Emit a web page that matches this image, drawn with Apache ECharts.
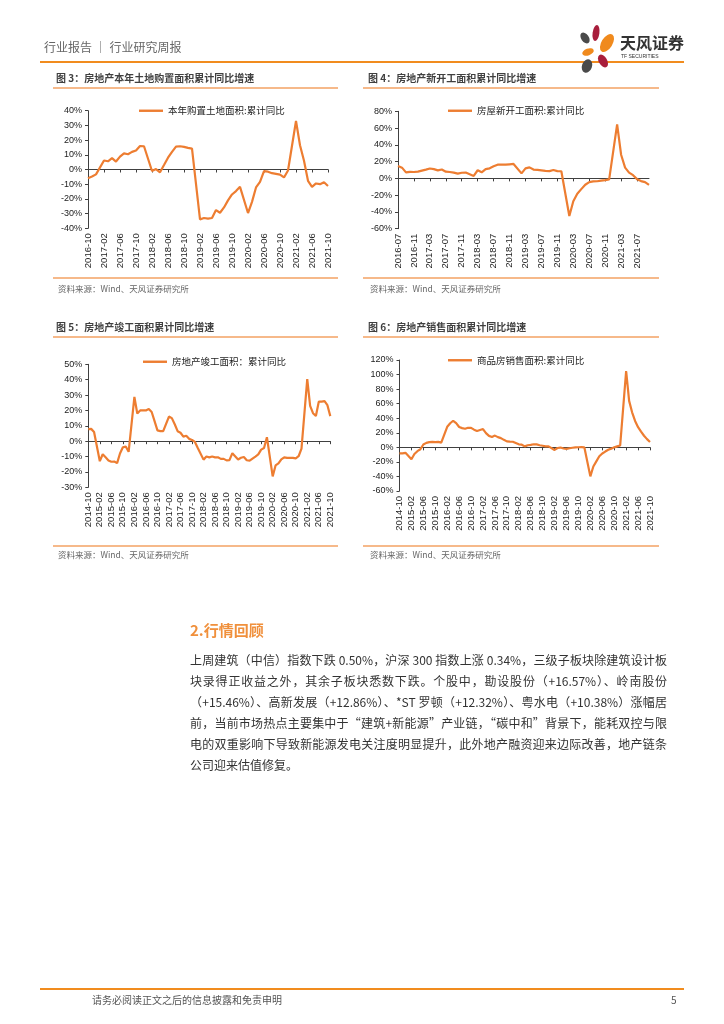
<!DOCTYPE html>
<html>
<head>
<meta charset="utf-8">
<script src="https://cdn.jsdelivr.net/npm/echarts@6/dist/echarts.min.js"></script>
<style>
  body { margin: 0; background: #fff; }
  #page { position: relative; width: 724px; height: 1024px; overflow: hidden; background: #fff;
          font-family: "Noto Sans CJK SC", "Noto Sans", sans-serif; }
  #chart { position: absolute; left: 0; top: 0; width: 724px; height: 1024px; }
  .t { position: absolute; white-space: nowrap; line-height: 1; }
  .hl { position: absolute; }
  .ttl { font-size: 10px; font-weight: bold; color: #404040; }
  .src { font-size: 8.5px; color: #666; }
  .pl { position: absolute; left: 190px; width: 477px; font-size: 12px; color: #333; line-height: 17px;
        white-space: nowrap; text-align: justify; text-align-last: justify; }
  .pl.last { text-align-last: left; }
</style>
</head>
<body>
<div id="page">
  <div id="chart"></div>

  <!-- header -->
  <div class="t" style="left:44px;top:41px;font-size:12px;color:#666;">行业报告 ｜ 行业研究周报</div>
  <div class="hl" style="left:40px;top:61px;width:644px;height:2px;background:#F18C1E;"></div>
  <svg style="position:absolute;left:0;top:0;" width="724" height="80">
    <ellipse cx="585" cy="38" rx="3.8" ry="6" fill="#4A4A4A" transform="rotate(-35 585 38)"/>
    <ellipse cx="596" cy="33" rx="3.4" ry="8" fill="#A81E3C" transform="rotate(8 596 33)"/>
    <ellipse cx="607" cy="43" rx="5.5" ry="10" fill="#F08A1D" transform="rotate(32 607 43)"/>
    <ellipse cx="588" cy="52" rx="6" ry="3.4" fill="#F08A1D" transform="rotate(-20 588 52)"/>
    <ellipse cx="603" cy="61" rx="4.2" ry="7" fill="#A81E3C" transform="rotate(-30 603 61)"/>
    <ellipse cx="587" cy="66" rx="5" ry="7" fill="#4A4A4A" transform="rotate(20 587 66)"/>
    <text x="620" y="49" font-size="16" font-weight="bold" fill="#333" font-family="Noto Sans CJK SC">天风证券</text>
    <text x="621" y="58" font-size="5" fill="#333" font-family="Liberation Sans">TF SECURITIES</text>
  </svg>

  <!-- chart titles / rules / sources -->
  <div class="t ttl" style="left:56px;top:73px;">图 3：房地产本年土地购置面积累计同比增速</div>
  <div class="hl" style="left:53px;top:87px;width:285px;height:1.5px;background:#F6B98A;"></div>
  <div class="hl" style="left:53px;top:277px;width:285px;height:1.5px;background:#F6B98A;"></div>
  <div class="t src" style="left:58px;top:284px;">资料来源：Wind、天风证券研究所</div>

  <div class="t ttl" style="left:368px;top:73px;">图 4：房地产新开工面积累计同比增速</div>
  <div class="hl" style="left:363px;top:87px;width:296px;height:1.5px;background:#F6B98A;"></div>
  <div class="hl" style="left:363px;top:277px;width:296px;height:1.5px;background:#F6B98A;"></div>
  <div class="t src" style="left:370px;top:284px;">资料来源：Wind、天风证券研究所</div>

  <div class="t ttl" style="left:56px;top:322px;">图 5：房地产竣工面积累计同比增速</div>
  <div class="hl" style="left:53px;top:336px;width:285px;height:1.5px;background:#F6B98A;"></div>
  <div class="hl" style="left:53px;top:545px;width:285px;height:1.5px;background:#F6B98A;"></div>
  <div class="t src" style="left:58px;top:550px;">资料来源：Wind、天风证券研究所</div>

  <div class="t ttl" style="left:368px;top:322px;">图 6：房地产销售面积累计同比增速</div>
  <div class="hl" style="left:363px;top:336px;width:296px;height:1.5px;background:#F6B98A;"></div>
  <div class="hl" style="left:363px;top:545px;width:296px;height:1.5px;background:#F6B98A;"></div>
  <div class="t src" style="left:370px;top:550px;">资料来源：Wind、天风证券研究所</div>

  <!-- section -->
  <div class="t" style="left:190px;top:622px;font-size:15px;font-weight:bold;color:#F0903C;">2.行情回顾</div>
  <div class="pl" style="top:651px;">上周建筑（中信）指数下跌 0.50%，沪深 300 指数上涨 0.34%，三级子板块除建筑设计板</div>
  <div class="pl" style="top:672px;">块录得正收益之外，其余子板块悉数下跌。个股中，勘设股份（+16.57%）、岭南股份</div>
  <div class="pl" style="top:693px;">（+15.46%）、高新发展（+12.86%）、*ST 罗顿（+12.32%）、粤水电（+10.38%）涨幅居</div>
  <div class="pl" style="top:714px;">前，当前市场热点主要集中于“建筑+新能源”产业链，“碳中和”背景下，能耗双控与限</div>
  <div class="pl" style="top:735px;">电的双重影响下导致新能源发电关注度明显提升，此外地产融资迎来边际改善，地产链条</div>
  <div class="pl last" style="top:756px;">公司迎来估值修复。</div>

  <!-- footer -->
  <div class="hl" style="left:40px;top:988px;width:644px;height:2px;background:#F18C1E;"></div>
  <div class="t" style="left:92px;top:995px;font-size:10px;color:#555;">请务必阅读正文之后的信息披露和免责申明</div>
  <div class="t" style="left:671px;top:995px;font-size:10px;color:#555;">5</div>
</div>

<script>
// ---------- data ----------
function monthRange(a, b) {
  const [y0, m0] = a.split('-').map(Number);
  const [y1, m1] = b.split('-').map(Number);
  const out = [];
  let y = y0, m = m0;
  while (y < y1 || (y === y1 && m <= m1)) {
    out.push(y + '-' + String(m).padStart(2, '0'));
    m++; if (m > 12) { m = 1; y++; }
  }
  return out;
}

// Figure 3: land purchase area, cumulative YoY (%), 2016-10 .. 2021-10 (January not published)
const landMonths = monthRange('2016-10', '2021-10');
const landYoY = [
  -5.9, -4.8, -3.3,
  null, 6.1, 5.6, 7.7, 5.4, 8.8, 11.0, 10.4, 12.0, 12.9, 16.0, 15.8,
  null, -1.0, 0.3, -1.9, 3.0, 8.0, 12.0, 15.6, 15.8, 15.4, 14.7, 14.2,
  null, -33.9, -33.0, -33.4, -33.0, -27.6, -29.4, -25.8, -21.0, -17.0, -14.7, -11.8,
  null, -29.6, -22.0, -12.2, -8.4, -1.1, -1.5, -2.5, -3.0, -3.5, -5.4, -0.7,
  null, 33.0, 16.5, 6.0, -7.7, -11.8, -9.5, -10.0, -8.7, -11.2
];
const landAxis = [-40, 40, 10];

// Figure 4: new construction area, cumulative YoY (%), 2016-07 .. 2021-10
const startMonths = monthRange('2016-07', '2021-10');
const startYoY = [
  14.9, 12.8, 7.2, 7.7, 7.6, 8.1,
  null, 10.4, 11.8, 11.0, 9.5, 10.6, 8.0, 7.6, 6.8, 5.6, 6.7, 7.0,
  null, 2.9, 9.7, 7.2, 11.0, 12.0, 14.4, 16.3, 16.4, 16.3, 16.8, 17.2,
  null, 6.0, 11.9, 13.1, 10.5, 10.1, 9.5, 8.9, 8.6, 10.0, 8.6, 8.5,
  null, -44.9, -27.2, -18.4, -12.8, -7.6, -4.5, -3.6, -3.4, -2.6, -2.0, -1.2,
  null, 64.3, 28.2, 12.8, 6.9, 3.8, -0.9, -3.2, -4.5, -7.7
];
const startAxis = [-60, 80, 20];

// Figure 5: completed area, cumulative YoY (%), 2014-10 .. 2021-10
const completeMonths = monthRange('2014-10', '2021-10');
const completeYoY = [
  7.8, 8.0, 6.0,
  null, -13.0, -8.5, -10.5, -12.5, -13.4, -13.2, -14.3, -8.0, -4.0, -3.5, -6.9,
  null, 28.8, 18.0, 20.0, 20.0, 20.0, 21.0, 19.0, 13.0, 7.0, 6.5, 6.5,
  null, 16.0, 15.0, 11.0, 6.5, 5.5, 3.0, 3.5, 1.5, 0.8, -0.5, -4.4,
  null, -12.0, -10.0, -10.5, -10.0, -10.5, -10.5, -11.5, -11.5, -12.5, -12.3, -7.8,
  null, -11.9, -10.8, -10.3, -12.4, -12.7, -11.3, -10.0, -8.6, -5.5, -4.5, 2.6,
  null, -22.9, -15.8, -14.5, -11.8, -10.5, -10.9, -10.8, -10.9, -11.2, -9.8, -4.9,
  null, 40.4, 22.9, 18.2, 16.4, 25.7, 25.7, 26.0, 23.4, 16.3
];
const completeAxis = [-30, 50, 10];

// Figure 6: commodity housing sales area, cumulative YoY (%), 2014-10 .. 2021-10
const salesMonths = monthRange('2014-10', '2021-10');
const salesYoY = [
  -8.3, -8.2, -7.6,
  null, -16.3, -9.2, -5.3, -2.6, 3.9, 6.1, 7.2, 7.5, 7.2, 7.4, 6.5,
  null, 28.2, 33.1, 36.5, 33.2, 27.9, 26.4, 25.5, 26.9, 26.8, 24.3, 22.5,
  null, 25.1, 19.5, 15.7, 14.3, 16.1, 14.0, 12.7, 10.3, 8.2, 7.9, 7.7,
  null, 4.1, 3.6, 1.3, 2.9, 3.3, 4.2, 4.0, 2.9, 2.2, 1.4, 1.3,
  null, -3.6, -0.9, -0.3, -1.6, -2.2, -1.3, -0.6, -0.1, 0.1, 0.2, -0.1,
  null, -39.9, -26.3, -19.3, -12.3, -8.4, -5.8, -3.3, -1.8, 0.0, 1.3, 2.6,
  null, 104.9, 63.8, 48.1, 36.3, 27.7, 21.5, 15.9, 11.3, 7.4
];
const salesAxis = [-60, 120, 20];

const seriesNames = ['本年购置土地面积:累计同比', '房屋新开工面积:累计同比', '房地产竣工面积：累计同比', '商品房销售面积:累计同比'];

// ---------- layout ----------
const panels = [
  { months: landMonths, values: landYoY, axis: landAxis, grid: { left: 88, top: 110.7, width: 240, height: 117.6 }, legend: { left: 134, top: 101 } },
  { months: startMonths, values: startYoY, axis: startAxis, grid: { left: 398, top: 111.3, width: 251, height: 117.4 }, legend: { left: 443, top: 101 } },
  { months: completeMonths, values: completeYoY, axis: completeAxis, grid: { left: 88.3, top: 364.3, width: 242, height: 123 }, legend: { left: 138, top: 352 } },
  { months: salesMonths, values: salesYoY, axis: salesAxis, grid: { left: 399.5, top: 360, width: 250.5, height: 131 }, legend: { left: 443, top: 350.5 } }
];

const LINE = '#ED7D31';
const AX = '#404040';
const LAB = '#222';
const NUMFONT = '"Liberation Sans", Arial, sans-serif';
const CJK = '"Noto Sans CJK SC", sans-serif';

const option = { animation: false, grid: [], xAxis: [], yAxis: [], series: [], legend: [] };
panels.forEach((p, i) => {
  option.grid.push(Object.assign({ containLabel: false }, p.grid));
  option.xAxis.push({
    gridIndex: i, type: 'category', data: p.months, boundaryGap: false, position: 'bottom',
    axisLine: { show: false, onZero: false }, axisTick: { show: false },
    axisLabel: { interval: 3, rotate: 90, fontSize: 9.5, color: LAB, margin: 5, fontFamily: NUMFONT }
  });
  option.xAxis.push({
    gridIndex: i, type: 'category', data: p.months, boundaryGap: false, position: 'bottom',
    axisLine: { show: true, onZero: true, lineStyle: { color: AX, width: 1 } },
    axisTick: { show: true, interval: 3, length: 3, lineStyle: { color: AX, width: 1 } },
    axisLabel: { show: false }
  });
  option.yAxis.push({
    gridIndex: i, type: 'value', min: p.axis[0], max: p.axis[1], interval: p.axis[2],
    axisLine: { show: true, lineStyle: { color: AX, width: 1 } },
    axisTick: { show: true, length: 3, lineStyle: { color: AX, width: 1 } },
    splitLine: { show: false },
    axisLabel: { formatter: '{value}%', fontSize: 9, color: LAB, margin: 6, fontFamily: NUMFONT }
  });
  option.series.push({
    name: seriesNames[i], type: 'line', xAxisIndex: 2 * i, yAxisIndex: i,
    data: p.values, connectNulls: true, symbol: 'none', smooth: false,
    lineStyle: { color: LINE, width: 2.2 }, itemStyle: { color: LINE }
  });
  option.legend.push({
    data: [seriesNames[i]], left: p.legend.left, top: p.legend.top,
    icon: 'rect', itemWidth: 24, itemHeight: 2.4, itemGap: 0,
    textStyle: { fontSize: 9.5, color: LAB, fontFamily: CJK }
  });
});

const chart = echarts.init(document.getElementById('chart'), null, { renderer: 'canvas' });
chart.setOption(option);
</script>
</body>
</html>
